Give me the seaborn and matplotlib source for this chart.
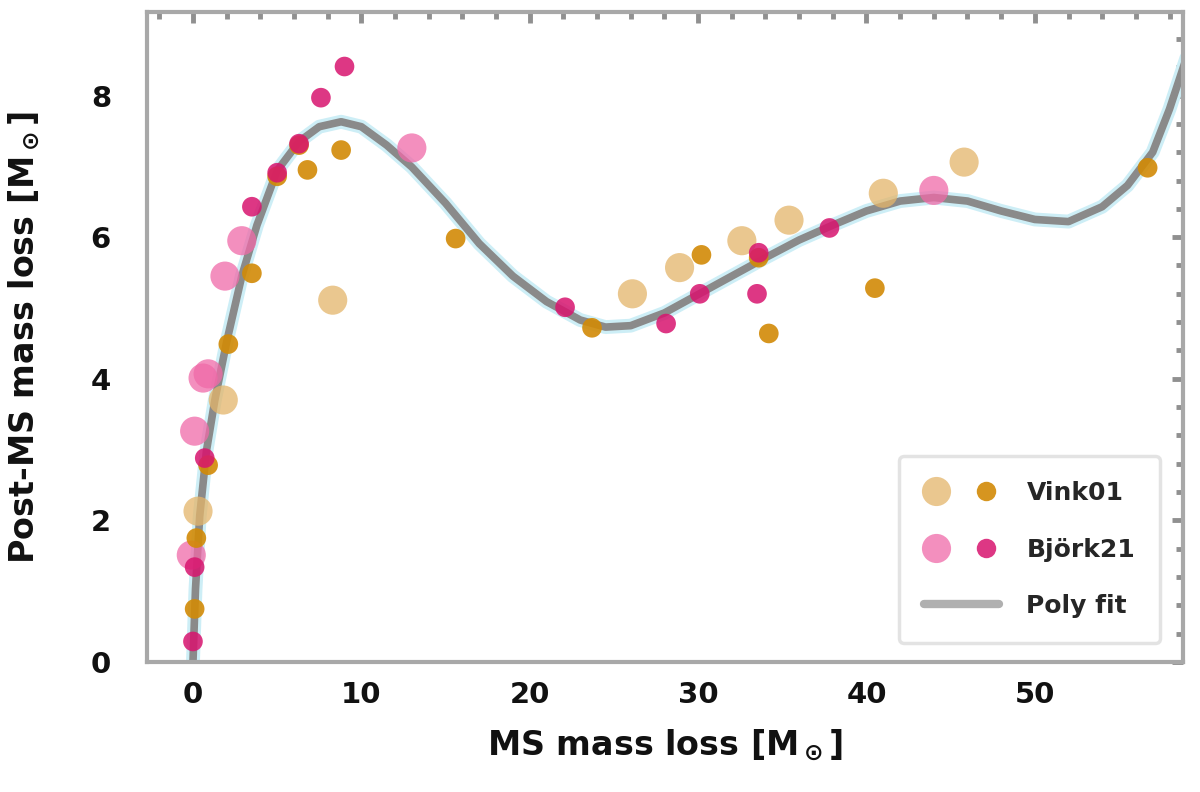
import numpy as np
import pandas as pd
import matplotlib
matplotlib.use("Agg")
import matplotlib.pyplot as plt
import seaborn as sns
from matplotlib.ticker import MultipleLocator
from matplotlib.lines import Line2D
from matplotlib.legend_handler import HandlerTuple

# ---- data ----
fit_x = [0, 0.15, 0.4, 0.8, 1.3, 2.0, 2.9, 3.8, 5.0, 6.3, 7.5, 8.8, 10, 11.5, 13, 15, 17, 19,
         21, 23, 24.5, 26, 28, 30, 32, 34, 36, 38, 40, 42, 44, 46, 48, 50, 52, 54, 55.5, 57, 58, 59]
fit_y = [0, 1.03, 2.06, 2.98, 3.70, 4.52, 5.45, 6.17, 6.94, 7.35, 7.56, 7.63, 7.56, 7.30, 6.99, 6.48,
         5.91, 5.45, 5.09, 4.83, 4.73, 4.75, 4.93, 5.19, 5.45, 5.71, 5.96, 6.17, 6.37, 6.51, 6.56, 6.51,
         6.37, 6.25, 6.22, 6.43, 6.73, 7.20, 7.81, 8.53]

vink_big_x = [8.3, 0.3, 1.8, 26.1, 28.9, 32.6, 35.4, 41.0, 45.8]
vink_big_y = [5.11, 2.13, 3.70, 5.20, 5.57, 5.95, 6.24, 6.62, 7.06]

vink_small_x = [0.1, 2.1, 0.9, 6.8, 8.8, 15.6, 3.5, 5.0, 6.3, 23.7, 30.2, 34.2, 40.5, 56.7, 0.2, 33.6]
vink_small_y = [0.75, 4.49, 2.78, 6.95, 7.23, 5.98, 5.49, 6.86, 7.30, 4.72, 5.75, 4.64, 5.28, 6.98, 1.75, 5.71]

bj_big_x = [13.0, 2.9, 1.9, 0.9, 0.1, -0.1, 44.0, 0.6]
bj_big_y = [7.26, 5.95, 5.45, 4.07, 3.26, 1.51, 6.66, 4.01]

bj_small_x = [9.0, 7.6, 3.5, 0.0, 22.1, 28.1, 33.5, 37.8, 30.1, 5.0, 6.3, 0.7, 0.1, 33.6]
bj_small_y = [8.41, 7.97, 6.43, 0.29, 5.01, 4.78, 5.20, 6.13, 5.20, 6.91, 7.32, 2.88, 1.34, 5.78]

legend_labels = ["Vink01", "Björk21", "Poly fit"]
x_label = r"MS mass loss [$\mathbf{M_\odot}$]"
y_label = r"Post-MS mass loss [$\mathbf{M_\odot}$]"

# ---- styling ----
sns.set_theme(style="white")
plt.rcParams["font.family"] = ["DejaVu Sans"]
plt.rcParams["mathtext.default"] = "bf"

c_vink_big = "#e4b56a"
c_vink_small = "#d28a06"
c_bj_big = "#f06aa8"
c_bj_small = "#d8146e"

W, H = 1200, 792
L, R, T, B = 147, 1183, 12, 662
fig = plt.figure(figsize=(12, 7.92), dpi=100)
ax = fig.add_axes([L / W, 1 - B / H, (R - L) / W, (B - T) / H])

fit = pd.DataFrame({"x": fit_x, "y": fit_y})
sns.lineplot(data=fit, x="x", y="y", ax=ax, color="#cdeef6", lw=10, estimator=None, zorder=1)
sns.lineplot(data=fit, x="x", y="y", ax=ax, color="#8a8a8a", lw=5.5, estimator=None, zorder=2)

sns.scatterplot(x=vink_big_x, y=vink_big_y, ax=ax, s=440, color=c_vink_big, alpha=0.75,
                edgecolor="none", zorder=3, legend=False)
sns.scatterplot(x=bj_big_x, y=bj_big_y, ax=ax, s=440, color=c_bj_big, alpha=0.75,
                edgecolor="none", zorder=3, legend=False)
sns.scatterplot(x=vink_small_x, y=vink_small_y, ax=ax, s=200, color=c_vink_small, alpha=0.9,
                edgecolor="none", zorder=4, legend=False)
sns.scatterplot(x=bj_small_x, y=bj_small_y, ax=ax, s=200, color=c_bj_small, alpha=0.85,
                edgecolor="none", zorder=4, legend=False)

ax.set_xlim(-2.73, 58.8)
ax.set_ylim(0, 9.18)
ax.xaxis.set_major_locator(MultipleLocator(10))
ax.xaxis.set_minor_locator(MultipleLocator(2))
ax.yaxis.set_major_locator(MultipleLocator(2))
ax.yaxis.set_minor_locator(MultipleLocator(0.4))
ax.tick_params(which="both", direction="in", top=True, right=True, colors="#909090",
               labelcolor="#111111", labelsize=21)
ax.tick_params(which="major", length=8, width=3.5)
ax.tick_params(which="minor", length=5, width=3.5)
ax.tick_params(axis="y", which="major", pad=26)
ax.tick_params(axis="x", which="major", pad=14)
for lab in ax.get_xticklabels() + ax.get_yticklabels():
    lab.set_fontweight("bold")
for sp in ax.spines.values():
    sp.set_color("#a8a8a8")
    sp.set_linewidth(3)

ax.set_xlabel(x_label, fontsize=24, color="#111111", fontweight="bold")
ax.set_ylabel(y_label, fontsize=24, color="#111111", fontweight="bold")
ax.xaxis.set_label_coords(0.5, (B - 728) / (B - T))
ax.yaxis.set_label_coords((42 - L) / (R - L), 0.5)

h1 = (Line2D([], [], marker="o", ls="", ms=21, color=c_vink_big, alpha=0.75, mec="none"),
      Line2D([], [], marker="o", ls="", ms=14, color=c_vink_small, alpha=0.9, mec="none"))
h2 = (Line2D([], [], marker="o", ls="", ms=21, color=c_bj_big, alpha=0.75, mec="none"),
      Line2D([], [], marker="o", ls="", ms=14, color=c_bj_small, alpha=0.85, mec="none"))
h3 = Line2D([], [], color="#b0b0b0", lw=6)
leg = ax.legend([h1, h2, h3], legend_labels, loc="lower right",
                handler_map={tuple: HandlerTuple(ndivide=None, pad=1.0)},
                prop={"size": 18, "weight": "bold"}, frameon=True, handlelength=3.0,
                handletextpad=1.1, labelspacing=1.3, borderpad=1.0,
                bbox_to_anchor=(0.99, 0.01))
leg.get_frame().set_edgecolor("#dddddd")
leg.get_frame().set_linewidth(2.5)

fig.savefig("out.png", dpi=100)
